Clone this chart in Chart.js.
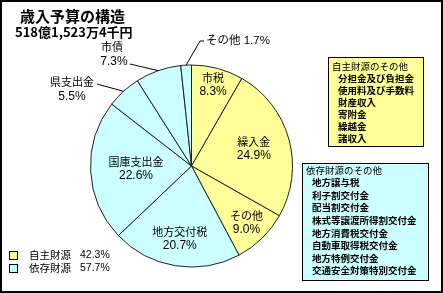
<!DOCTYPE html>
<html>
<head>
<meta charset="utf-8">
<script src="https://cdn.jsdelivr.net/npm/chart.js@4.4.1/dist/chart.umd.min.js"></script>
<style>
  body { margin: 0; background: #fff; }
  canvas { display: block; }
</style>
</head>
<body>
<canvas id="myChart" width="443" height="293"></canvas>
<script>
// data
const categories = ['市税', '繰入金', 'その他', '地方交付税', '国庫支出金', '県支出金', '市債', 'その他'];
const shares = [8.3, 24.9, 9.0, 20.7, 22.6, 5.5, 7.3, 1.7];
const sourceGroup = [0, 0, 0, 1, 1, 1, 1, 1];
const groupNames = ['自主財源', '依存財源'];
const groupShares = [42.3, 57.7];
const titleText = '歳入予算の構造';
const totalText = '518億1,523万4千円';
const ownOtherTitle = '自主財源のその他';
const ownOtherItems = ['分担金及び負担金', '使用料及び手数料', '財産収入', '寄附金', '繰越金', '諸収入'];
const depOtherTitle = '依存財源のその他';
const depOtherItems = ['地方譲与税', '利子割交付金', '配当割交付金', '株式等譲渡所得割交付金',
  '地方消費税交付金', '自動車取得税交付金', '地方特例交付金', '交通安全対策特別交付金'];

const groupColors = ['#FFFF99', '#CCFFFF'];
const JP = "'Noto Sans CJK JP', sans-serif";
const NUM = "'Liberation Sans', 'Noto Sans CJK JP', sans-serif";

// label radius (fraction of outer radius) for labels drawn inside the slices
const insideLabels = { 0: 0.83, 1: 0.64, 2: 0.78, 3: 0.73, 4: 0.55 };
// labels outside the pie with leader lines
const outsideLabels = {
  6: { name: [112, 47], pct: [114, 62], line: [[130, 64]] },
  5: { name: [72, 82], pct: [72, 97], line: [[97, 84]] },
  7: { single: [206, 41], line: [[204, 41], [200, 41]] }
};

const pct = (v) => v.toFixed(1) + '%';

const edgePoint = (arc, frac) => {
  const mid = (arc.startAngle + arc.endAngle) / 2;
  const r = arc.outerRadius * frac;
  return [arc.x + Math.cos(mid) * r, arc.y + Math.sin(mid) * r];
};

const decorations = {
  id: 'decorations',
  beforeDraw(chart) {
    const ctx = chart.ctx;
    ctx.save();
    ctx.fillStyle = '#fff';
    ctx.fillRect(0, 0, chart.width, chart.height);
    ctx.restore();
  },
  afterDraw(chart) {
    const ctx = chart.ctx;
    const arcs = chart.getDatasetMeta(0).data;
    ctx.save();
    ctx.fillStyle = '#000';
    ctx.textBaseline = 'middle';

    // title
    ctx.textAlign = 'left';
    ctx.font = 'bold 15px ' + JP;
    ctx.fillText(titleText, 20, 16);
    ctx.font = 'bold 13px ' + JP;
    ctx.fillText(totalText, 15, 32);

    // labels inside slices
    ctx.textAlign = 'center';
    Object.keys(insideLabels).forEach(k => {
      const i = Number(k);
      const [x, y] = edgePoint(arcs[i], insideLabels[k]);
      ctx.font = '11px ' + JP;
      ctx.fillText(categories[i], x, y - 7);
      ctx.font = '12px ' + NUM;
      ctx.fillText(pct(shares[i]), x, y + 7);
    });

    // outside labels + leader lines
    ctx.strokeStyle = '#000';
    ctx.lineWidth = 1;
    Object.keys(outsideLabels).forEach(k => {
      const i = Number(k);
      const o = outsideLabels[k];
      if (o.single) {
        ctx.textAlign = 'left';
        ctx.font = '11.5px ' + NUM;
        ctx.fillText(categories[i] + ' ' + pct(shares[i]), o.single[0], o.single[1]);
      } else {
        ctx.textAlign = 'center';
        ctx.font = '11px ' + JP;
        ctx.fillText(categories[i], o.name[0], o.name[1]);
        ctx.font = '12px ' + NUM;
        ctx.fillText(pct(shares[i]), o.pct[0], o.pct[1]);
      }
      const end = edgePoint(arcs[i], 1);
      ctx.beginPath();
      ctx.moveTo(o.line[0][0], o.line[0][1]);
      o.line.slice(1).forEach(p => ctx.lineTo(p[0], p[1]));
      ctx.lineTo(end[0], end[1]);
      ctx.stroke();
    });

    // note boxes
    const noteBox = (x, y, w, h, fill, title, items, tx, ix, ty, step) => {
      ctx.fillStyle = fill;
      ctx.fillRect(x, y, w, h);
      ctx.strokeStyle = '#000';
      ctx.strokeRect(x + 0.5, y + 0.5, w, h);
      ctx.fillStyle = '#000';
      ctx.textAlign = 'left';
      ctx.font = '9.5px ' + JP;
      ctx.fillText(title, tx, ty);
      ctx.font = 'bold 9.5px ' + JP;
      items.forEach((t, j) => ctx.fillText(t, ix, ty + step * (j + 1)));
    };
    noteBox(328, 57, 95, 89, groupColors[0], ownOtherTitle, ownOtherItems, 332, 338, 66, 12);
    noteBox(302, 163, 126, 117, groupColors[1], depOtherTitle, depOtherItems, 306, 312, 170, 12.6);

    // group legend
    groupNames.forEach((g, j) => {
      const y = 251 + j * 13;
      ctx.fillStyle = groupColors[j];
      ctx.fillRect(9, y, 8, 8);
      ctx.strokeStyle = '#000';
      ctx.strokeRect(9.5, y + 0.5, 8, 8);
      ctx.fillStyle = '#000';
      ctx.textAlign = 'left';
      ctx.font = '10.5px ' + JP;
      ctx.fillText(g, 29, y + 4);
      ctx.font = '10.5px ' + NUM;
      ctx.fillText(pct(groupShares[j]), 80, y + 4);
    });

    // frame
    ctx.strokeStyle = '#000';
    ctx.lineWidth = 2;
    ctx.strokeRect(1, 1, chart.width - 2, chart.height - 2);
    ctx.restore();
  }
};

const data = {
  labels: categories,
  datasets: [{
    data: shares,
    backgroundColor: sourceGroup.map(g => groupColors[g]),
    borderColor: '#222',
    borderWidth: 1
  }]
};

const config = {
  type: 'pie',
  data: data,
  options: {
    responsive: false,
    animation: false,
    layout: { padding: { left: 90, right: 150, top: 64, bottom: 25 } },
    plugins: {
      legend: { display: false },
      tooltip: { enabled: false }
    }
  },
  plugins: [decorations]
};

const myChart = new Chart(document.getElementById('myChart'), config);
</script>
</body>
</html>
